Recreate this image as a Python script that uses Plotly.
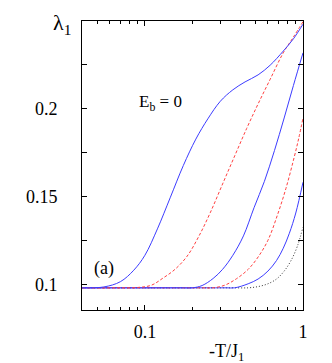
import plotly.graph_objects as go
import numpy as np

# Curve data (T = -T/J1, lam = lambda_1)
b1_T = [0.04, 0.055, 0.07, 0.085, 0.1, 0.12, 0.145, 0.175, 0.21, 0.25, 0.3, 0.36, 0.43, 0.52, 0.62, 0.75, 0.87, 1.0]
b1_L = [0.098, 0.0985, 0.1015, 0.108, 0.1165, 0.1315, 0.1495, 0.1675, 0.1825, 0.194, 0.204, 0.2105, 0.215, 0.219, 0.2245, 0.2325, 0.2395, 0.2478]

r1_T = [0.04, 0.065, 0.09, 0.11, 0.13, 0.155, 0.185, 0.22, 0.26, 0.31, 0.37, 0.44, 0.52, 0.62, 0.75, 0.87, 1.0]
r1_L = [0.098, 0.098, 0.0982, 0.0995, 0.1035, 0.1085, 0.116, 0.1275, 0.141, 0.157, 0.173, 0.1885, 0.2025, 0.2165, 0.2315, 0.2405, 0.2492]

b2_T = [0.04, 0.07, 0.12, 0.17, 0.2, 0.23, 0.27, 0.31, 0.36, 0.42, 0.49, 0.57, 0.66, 0.76, 0.87, 1.0]
b2_L = [0.098, 0.098, 0.098, 0.098, 0.098, 0.0993, 0.1033, 0.1085, 0.1165, 0.1275, 0.1435, 0.1585, 0.176, 0.1945, 0.213, 0.2315]

r2_T = [0.04, 0.07, 0.12, 0.19, 0.23, 0.27, 0.32, 0.38, 0.45, 0.52, 0.6, 0.69, 0.78, 0.87, 0.94, 1.0]
r2_L = [0.098, 0.098, 0.098, 0.098, 0.098, 0.098, 0.0995, 0.1032, 0.1085, 0.1155, 0.125, 0.1395, 0.1545, 0.1705, 0.183, 0.1945]

b3_T = [0.04, 0.07, 0.12, 0.2, 0.28, 0.33, 0.37, 0.45, 0.52, 0.6, 0.68, 0.75, 0.82, 0.9, 1.0]
b3_L = [0.098, 0.098, 0.098, 0.098, 0.098, 0.098, 0.098, 0.1003, 0.103, 0.1075, 0.1135, 0.1205, 0.129, 0.1405, 0.158]

k_T = [0.04, 0.07, 0.12, 0.2, 0.3, 0.37, 0.45, 0.52, 0.6, 0.68, 0.76, 0.84, 0.92, 1.0]
k_L = [0.098, 0.098, 0.098, 0.098, 0.098, 0.098, 0.098, 0.0987, 0.1003, 0.103, 0.1075, 0.1135, 0.1215, 0.1325]

x_tickvals = [0.1, 1]
x_ticktext = ["0.1", "1"]
x_minor = [0.04, 0.05, 0.06, 0.07, 0.08, 0.09, 0.2, 0.3, 0.4, 0.5, 0.6, 0.7, 0.8, 0.9]
y_tickvals = [0.1, 0.125, 0.15, 0.175, 0.2, 0.225, 0.25]
y_ticktext = ["0.1", "", "0.15", "", "0.2", "", ""]

BLUE = "#3c3cff"
RED = "#ff4040"
FONT = "Liberation Serif"

fig = go.Figure()

def add(T, L, color, dash):
    fig.add_trace(go.Scatter(x=T, y=L, mode="lines",
                             line=dict(color=color, width=1, dash=dash, shape="spline", smoothing=1.0),
                             showlegend=False, hoverinfo="skip"))

add(k_T, k_L, "#333333", "1px,2px")
add(b3_T, b3_L, BLUE, "solid")
add(r2_T, r2_L, RED, "3px,2px")
add(b2_T, b2_L, BLUE, "solid")
add(r1_T, r1_L, RED, "3px,2px")
add(b1_T, b1_L, BLUE, "solid")

fig.update_layout(
    width=332, height=363,
    margin=dict(l=82, r=29, t=21, b=53),
    paper_bgcolor="white", plot_bgcolor="white",
    font=dict(family=FONT, size=18, color="black"),
    xaxis=dict(type="log", range=[np.log10(0.04), 0.0],
               tickmode="array", tickvals=x_tickvals, ticktext=x_ticktext,
               tickfont=dict(family=FONT, size=18),
               ticks="inside", ticklen=5, tickwidth=1, tickcolor="black",
               showline=True, linecolor="black", linewidth=1, mirror="ticks",
               showgrid=False, zeroline=False, ticklabelstandoff=5,
               minor=dict(tickmode="array", tickvals=x_minor, ticks="inside",
                          ticklen=3, tickcolor="black", showgrid=False)),
    yaxis=dict(range=[0.0854, 0.2496],
               tickmode="array", tickvals=y_tickvals, ticktext=y_ticktext,
               tickfont=dict(family=FONT, size=18),
               ticks="inside", ticklen=5, tickwidth=1, tickcolor="black",
               showline=True, linecolor="black", linewidth=1, mirror="ticks",
               showgrid=False, zeroline=False, ticklabelstandoff=20),
)

def note(text, px, py, size):
    fig.add_annotation(text=text, xref="paper", yref="paper",
                       x=(px - 82) / 221, y=(310 - py) / 289,
                       xanchor="left", yanchor="middle", showarrow=False,
                       font=dict(size=size, family=FONT))

note("λ<sub>1</sub>", 51, 24, 22)
note("E<sub>b</sub> = 0", 137, 103, 17)
note("(a)", 92, 268, 18)
note("-T/J<sub>1</sub>", 207, 352, 18)

fig.write_html("out.html", config={"displayModeBar": False},
               post_script="document.body.style.margin='0';")
